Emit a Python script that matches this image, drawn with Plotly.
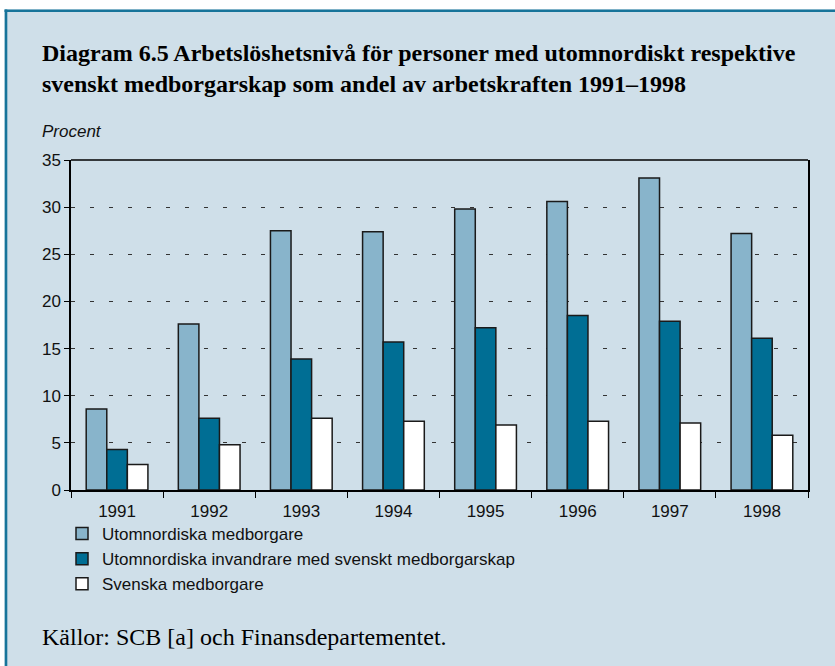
import plotly.graph_objects as go

years = ["1991", "1992", "1993", "1994", "1995", "1996", "1997", "1998"]
utomnordiska = [8.6, 17.6, 27.5, 27.4, 29.8, 30.6, 33.1, 27.2]
invandrare_sv = [4.3, 7.6, 13.9, 15.7, 17.2, 18.5, 17.9, 16.1]
svenska = [2.7, 4.8, 7.6, 7.3, 6.9, 7.3, 7.1, 5.8]
series_names = [
    "Utomnordiska medborgare",
    "Utomnordiska invandrare med svenskt medborgarskap",
    "Svenska medborgare",
]
y_ticks = [0, 5, 10, 15, 20, 25, 30, 35]

W_FIG, H_FIG = 835, 666
L, R, T, B = 71, 808, 160, 490
PW, PH = R - L, B - T


def px_x(px):
    return (px - L) / PW


def px_y(py):
    return (B - py) / PH


BG = "#cfdfe9"
BORDER = "#17749a"
colors = ["#88b4cb", "#006e94", "#ffffff"]
SANS = "Liberation Sans"
SERIF = "Liberation Serif"

fig = go.Figure()
for name, vals, col in zip(series_names, [utomnordiska, invandrare_sv, svenska], colors):
    fig.add_trace(go.Bar(
        x=years, y=vals, name=name,
        marker=dict(color=col, line=dict(color="#1a1a1a", width=1.5)),
    ))

fig.update_layout(
    width=W_FIG, height=H_FIG,
    margin=dict(l=L, r=W_FIG - R, t=T, b=H_FIG - B, pad=0),
    paper_bgcolor=BG, plot_bgcolor=BG,
    barmode="group", bargap=0.33, bargroupgap=0,
    font=dict(family=SANS, size=17, color="#111111"),
    showlegend=True,
    legend=dict(
        x=px_x(62), y=px_y(516), xanchor="left", yanchor="top",
        bgcolor="rgba(0,0,0,0)", font=dict(family=SANS, size=17, color="#111111"),
        traceorder="normal", itemwidth=30, tracegroupgap=0,
    ),
    xaxis=dict(
        showline=True, linecolor="#000000", linewidth=2,
        ticks="outside", ticklen=6, tickwidth=1.2, tickcolor="#000000",
        tickson="boundaries", showgrid=False, ticklabelstandoff=5,
        tickfont=dict(family=SANS, size=17, color="#111111"),
    ),
    yaxis=dict(
        range=[0, 35], tickvals=y_ticks, ticktext=[str(v) for v in y_ticks],
        showline=True, linecolor="#000000", linewidth=1.5, mirror=True,
        ticks="outside", ticklen=5, tickwidth=1.2, tickcolor="#000000",
        showgrid=True, gridcolor="#333333", gridwidth=1.2, griddash="4px,15px",
        zeroline=False,
        tickfont=dict(family=SANS, size=17, color="#111111"),
    ),
)

# top frame line of the plot area
fig.add_shape(type="line", xref="paper", yref="paper", x0=0, x1=1, y0=1, y1=1,
              line=dict(color="#000000", width=1.5))

# outer white margin and the coloured frame border (top and left)
fig.add_shape(type="rect", xref="paper", yref="paper",
              x0=px_x(0), x1=px_x(W_FIG), y0=px_y(0), y1=px_y(9.5),
              fillcolor="#ffffff", line=dict(width=0), layer="below")
fig.add_shape(type="rect", xref="paper", yref="paper",
              x0=px_x(0), x1=px_x(4.5), y0=px_y(0), y1=px_y(H_FIG),
              fillcolor="#ffffff", line=dict(width=0), layer="below")
fig.add_shape(type="line", xref="paper", yref="paper",
              x0=px_x(4.5), x1=px_x(W_FIG), y0=px_y(10.8), y1=px_y(10.8),
              line=dict(color=BORDER, width=2.6))
fig.add_shape(type="line", xref="paper", yref="paper",
              x0=px_x(6), x1=px_x(6), y0=px_y(9.5), y1=px_y(H_FIG),
              line=dict(color=BORDER, width=2.6))

fig.add_annotation(
    xref="paper", yref="paper", x=px_x(40), y=px_y(68), xanchor="left", yanchor="middle",
    text="<b>Diagram 6.5 Arbetslöshetsnivå för personer med utomnordiskt respektive<br>"
         "svenskt medborgarskap som andel av arbetskraften 1991–1998</b>",
    showarrow=False, align="left",
    font=dict(family=SERIF, size=24, color="#000000"),
)
fig.add_annotation(
    xref="paper", yref="paper", x=px_x(40), y=px_y(132), xanchor="left", yanchor="middle",
    text="<i>Procent</i>", showarrow=False,
    font=dict(family=SANS, size=17, color="#111111"),
)
fig.add_annotation(
    xref="paper", yref="paper", x=px_x(40), y=px_y(637), xanchor="left", yanchor="middle",
    text="Källor: SCB [a] och Finansdepartementet.", showarrow=False,
    font=dict(family=SERIF, size=24, color="#000000"),
)

fig.write_html(
    "out.html",
    config={"displayModeBar": False},
    post_script="document.body.style.margin='0';document.body.style.overflow='hidden';",
)
